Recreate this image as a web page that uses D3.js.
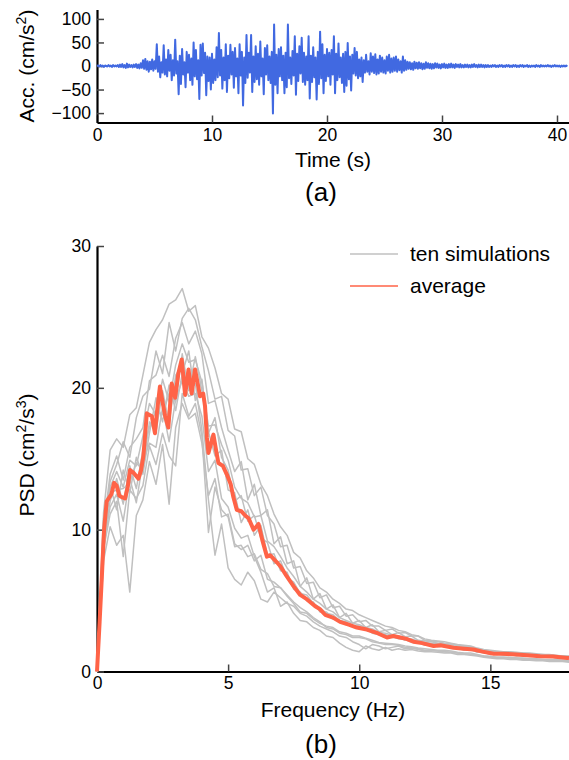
<!DOCTYPE html>
<html>
<head>
<meta charset="utf-8">
<script src="https://cdnjs.cloudflare.com/ajax/libs/d3/7.8.5/d3.min.js"></script>
<style>
body { margin: 0; background: #fff; }
svg text { font-family: "Liberation Sans", Arial, sans-serif; fill: #000; }
</style>
</head>
<body>
<div id="vis"></div>
<script>
// ---- data ----

// (a) acceleration record, one value every 0.1 s (cm/s^2)
const ACC_DT = 0.1;
const accValues = [
  0, 1, -1, 2, -1, 1, -2, 1, 0, -1,
  2, -1, 1, -2, 2, -1, 1, -1, 2, -2,
  3, -2, 4, -3, 2, -4, 5, -3, 3, -2,
  2, -3, 3, -2, 4, -4, 3, -5, 6, -4,
  12, -6, 15, -8, 10, -12, 9, -7, 14, -10,
  10, -6, 46, -12, 20, -24, 8, -14, 44, -18,
  14, -22, 34, -10, 24, -30, 12, -20, 56, -16,
  10, -60, 22, -38, 36, -18, 8, -45, 30, -14,
  24, -30, 16, -40, 50, -22, 34, -28, 12, -70,
  45, -20, 48, -15, 28, -62, 20, -32, 18, -50,
  26, -36, 14, -30, 40, -24, 70, -20, 34, -48,
  18, -30, 46, -55, 22, -26, 45, -18, 30, -46,
  38, -22, 16, -58, 46, -20, 30, -84, 18, -36,
  66, -25, 28, -14, 66, -55, 20, -34, 42, -28,
  26, -40, 52, -22, 16, -60, 38, -18, 44, -30,
  20, -36, 30, -101, 88, -40, 24, -58, 36, -22,
  40, -30, 22, -58, 28, -45, 88, -26, 18, -38,
  32, -20, 63, -61, 26, -32, 42, -16, 60, -34,
  28, -40, 20, -30, 63, -69, 22, -34, 40, -24,
  18, -71, 30, -38, 73, -26, 46, -58, 24, -32,
  36, -22, 28, -40, 34, -18, 63, -58, 26, -30,
  48, -24, 18, -36, 26, -55, 30, -42, 49, -28,
  20, -52, 24, -16, 38, -20, 30, -26, 14, -22,
  18, -34, 12, -14, 24, -12, 10, -18, 27, -12,
  20, -15, 25, -18, 14, -16, 22, -12, 18, -14,
  12, -16, 20, -10, 24, -14, 16, -12, 18, -10,
  20, -12, 14, -9, 10, -14, 20, -10, 12, -8,
  9, -6, 8, -7, 6, -8, 9, -5, 7, -6,
  8, -5, 6, -7, 5, -6, 8, -4, 6, -5,
  5, -6, 4, -5, 6, -3, 5, -4, 3, -5,
  4, -3, 5, -4, 3, -4, 4, -3, 5, -3,
  3, -4, 4, -2, 3, -3, 4, -3, 2, -3,
  3, -2, 3, -3, 2, -3, 3, -2, 4, -2,
  2, -3, 3, -2, 3, -2, 2, -3, 2, -2,
  2, -2, 1, -2, 2, -1, 2, -2, 1, -2,
  2, -1, 2, -2, 1, -2, 2, -1, 2, -2,
  1, -2, 2, -1, 2, -2, 1, -2, 2, -1,
  2, -2, 1, -1, 2, -2, 1, -2, 1, -1,
  1, -2, 2, -1, 1, -2, 2, -1, 1, -1,
  1, -1, 2, -1, 1, -2, 1, -1, 2, -1,
  1, -1, 1, -2, 1, -1, 1, -1, 1, -1
];
const accTicksX = [0, 10, 20, 30, 40];
const accTicksY = [-100, -50, 0, 50, 100];

// (b) PSD of the ten simulations, one value every 0.25 Hz (cm^2/s^3)
const SIM_DF = 0.25;
const sim1 = [0, 11.2, 15.6, 16.4, 15.8, 18.1, 18.6, 20.9, 23.2, 24.1,
  24.8, 25.9, 26.2, 27.0, 25.4, 25.8, 23.6, 22.8, 21.4, 19.6,
  19.2, 17.1, 16.9, 15.0, 14.6, 13.2, 12.4, 11.1, 10.2, 9.6,
  8.4, 8.0, 7.1, 6.6, 5.9, 5.6, 5.1, 4.8, 4.4, 4.3,
  4.0, 3.8, 3.6, 3.4, 3.2, 3.1, 2.9, 2.8, 2.6, 2.5,
  2.2, 2.15, 2.1, 2.0, 1.95, 1.85, 1.8, 1.75, 1.6, 1.5,
  1.45, 1.4, 1.4, 1.35, 1.3, 1.3, 1.25, 1.2, 1.2, 1.15,
  1.1, 1.1, 1.05];
const sim2 = [0, 7.8, 10.2, 8.9, 9.6, 5.6, 11.0, 12.1, 14.8, 13.2,
  16.0, 11.8, 17.2, 18.9, 17.8, 18.2, 16.1, 12.4, 13.6, 10.9,
  11.1, 9.0, 8.6, 8.9, 7.8, 8.2, 6.5, 6.3, 5.9, 5.4,
  4.9, 4.5, 4.2, 3.8, 3.5, 3.1, 3.0, 2.7, 2.6, 2.4,
  2.4, 2.3, 2.1, 2.0, 1.9, 1.9, 1.85, 1.7, 1.65, 1.6,
  1.5, 1.5, 1.45, 1.4, 1.35, 1.3, 1.25, 1.2, 1.15, 1.05,
  1.0, 0.95, 0.95, 0.95, 0.9, 0.85, 0.85, 0.8, 0.8, 0.8,
  0.75, 0.75, 0.7];
const sim3 = [0, 10.2, 13.9, 15.2, 13.5, 15.8, 16.4, 17.2, 20.5, 20.9,
  22.3, 20.8, 23.5, 24.6, 23.1, 24.0, 22.4, 18.9, 19.1, 17.2,
  15.6, 14.1, 14.8, 12.1, 13.2, 11.0, 11.4, 9.0, 9.5, 7.6,
  7.8, 6.0, 6.6, 5.1, 5.5, 4.4, 4.7, 3.8, 4.1, 3.4,
  3.6, 3.1, 3.3, 2.8, 2.9, 2.6, 2.75, 2.45, 2.5, 2.2,
  2.15, 2.1, 2.0, 1.95, 1.9, 1.8, 1.75, 1.7, 1.55, 1.45,
  1.4, 1.35, 1.35, 1.3, 1.3, 1.25, 1.2, 1.2, 1.15, 1.1,
  1.1, 1.05, 1.05];
const sim4 = [0, 9.1, 12.0, 13.6, 11.8, 14.5, 12.9, 15.6, 17.2, 18.4,
  18.1, 19.6, 19.0, 22.4, 19.8, 20.3, 17.0, 12.1, 8.2, 10.4,
  7.3, 6.5, 6.1, 7.0, 6.4, 5.1, 4.9, 5.6, 5.2, 4.8,
  4.6, 4.1, 3.9, 3.5, 3.2, 3.0, 2.8, 2.5, 2.4, 2.1,
  1.9, 1.6, 1.9, 1.8, 1.6, 1.7, 1.8, 1.6, 1.65, 1.55,
  1.45, 1.5, 1.45, 1.4, 1.35, 1.3, 1.25, 1.2, 1.15, 1.1,
  1.05, 1.0, 1.0, 0.95, 0.95, 0.9, 0.9, 0.85, 0.85, 0.8,
  0.8, 0.8, 0.75];
const sim5 = [0, 10.8, 13.1, 11.4, 14.2, 12.6, 15.1, 13.9, 16.8, 19.3,
  17.6, 20.2, 18.4, 21.0, 22.6, 19.1, 20.6, 16.8, 17.9, 15.1,
  14.2, 12.0, 12.4, 10.6, 11.0, 9.4, 9.1, 7.6, 7.8, 6.6,
  6.3, 5.5, 5.4, 4.8, 4.5, 4.1, 4.0, 3.6, 3.5, 3.2,
  3.2, 2.9, 2.9, 2.6, 2.6, 2.4, 2.45, 2.2, 2.2, 2.0,
  2.0, 1.85, 1.85, 1.75, 1.75, 1.6, 1.6, 1.5, 1.45, 1.3,
  1.3, 1.2, 1.25, 1.15, 1.2, 1.1, 1.15, 1.05, 1.1, 1.0,
  1.0, 0.95, 0.95];
const sim6 = [0, 8.6, 11.1, 12.0, 8.1, 12.8, 12.2, 13.1, 15.9, 14.6,
  16.8, 15.2, 14.5, 19.6, 18.0, 18.9, 16.6, 9.8, 13.0, 11.4,
  10.9, 8.8, 8.9, 8.1, 8.3, 7.2, 6.9, 6.0, 5.9, 5.3,
  4.8, 4.2, 4.1, 3.7, 3.4, 3.2, 3.1, 2.8, 2.7, 2.5,
  2.5, 2.35, 2.2, 2.05, 2.0, 1.95, 1.9, 1.8, 1.75, 1.65,
  1.6, 1.55, 1.5, 1.5, 1.45, 1.35, 1.3, 1.3, 1.2, 1.1,
  1.05, 1.0, 1.0, 1.0, 0.95, 0.95, 0.9, 0.9, 0.85, 0.85,
  0.85, 0.8, 0.8];
const sim7 = [0, 9.9, 13.4, 14.6, 16.2, 15.1, 17.9, 19.4, 19.9, 22.6,
  21.0, 24.6, 22.6, 24.9, 25.6, 24.8, 22.9, 21.2, 19.2, 19.4,
  17.0, 16.6, 14.2, 14.3, 12.4, 13.0, 11.0, 10.4, 8.8, 8.9,
  7.3, 7.4, 6.2, 6.3, 5.2, 5.4, 4.5, 4.6, 3.9, 4.0,
  3.5, 3.6, 3.2, 3.2, 2.9, 3.0, 2.7, 2.75, 2.5, 2.5,
  2.3, 2.2, 2.15, 2.1, 2.0, 1.9, 1.85, 1.8, 1.65, 1.55,
  1.5, 1.45, 1.4, 1.4, 1.35, 1.3, 1.3, 1.25, 1.2, 1.2,
  1.15, 1.1, 1.1];
const sim8 = [0, 9.4, 12.6, 12.8, 12.9, 13.3, 14.7, 14.2, 17.6, 16.9,
  19.8, 17.5, 20.9, 21.6, 19.9, 22.2, 19.8, 16.9, 15.2, 15.6,
  12.8, 12.6, 10.5, 11.4, 9.6, 10.3, 8.2, 8.3, 7.1, 7.0,
  5.8, 5.6, 5.0, 4.9, 4.2, 4.2, 3.7, 3.6, 3.3, 3.2,
  3.0, 3.0, 2.7, 2.6, 2.4, 2.45, 2.3, 2.25, 2.05, 2.05,
  1.85, 1.9, 1.75, 1.8, 1.65, 1.65, 1.5, 1.55, 1.35, 1.35,
  1.2, 1.25, 1.15, 1.2, 1.1, 1.15, 1.05, 1.1, 1.0, 1.05,
  0.95, 1.0, 0.95];
const sim9 = [0, 8.9, 11.6, 12.5, 10.6, 13.6, 11.9, 14.8, 16.1, 15.8,
  18.6, 16.2, 19.2, 20.5, 19.4, 19.6, 18.0, 14.1, 14.9, 12.2,
  11.6, 10.1, 9.4, 9.6, 8.1, 7.0, 5.6, 5.9, 4.6, 4.9,
  4.1, 3.6, 3.5, 3.1, 2.9, 2.5, 2.4, 2.0, 1.7, 1.5,
  1.4, 1.8, 1.6, 1.5, 1.7, 1.5, 1.6, 1.5, 1.55, 1.45,
  1.4, 1.4, 1.35, 1.3, 1.3, 1.2, 1.2, 1.15, 1.1, 1.0,
  0.95, 0.9, 0.9, 0.85, 0.85, 0.8, 0.8, 0.75, 0.75, 0.7,
  0.7, 0.7, 0.65];
const sim10 = [0, 10.0, 13.0, 14.1, 13.0, 14.9, 14.5, 16.6, 18.9, 18.1,
  20.6, 19.0, 21.6, 23.1, 21.8, 22.0, 20.4, 17.3, 17.4, 16.0,
  14.9, 13.0, 12.2, 11.9, 10.9, 11.0, 9.2, 8.8, 8.1, 7.3,
  6.7, 6.0, 5.6, 5.1, 4.8, 4.4, 4.2, 3.8, 3.6, 3.4,
  3.3, 3.1, 3.0, 2.75, 2.7, 2.55, 2.5, 2.35, 2.3, 2.15,
  2.05, 2.0, 1.95, 1.85, 1.8, 1.7, 1.7, 1.6, 1.5, 1.4,
  1.35, 1.3, 1.3, 1.25, 1.2, 1.2, 1.15, 1.1, 1.1, 1.05,
  1.05, 1.0, 1.0];
const simulations = [sim1, sim2, sim3, sim4, sim5, sim6, sim7, sim8, sim9, sim10];

// (b) average PSD (its own, finer frequency points)
const avgFreq = [0, 0.1, 0.18, 0.27, 0.37, 0.44, 0.55, 0.65, 0.75, 0.85,
  0.94, 1.07, 1.17, 1.26, 1.4, 1.58, 1.68, 1.77, 1.9, 2.09,
  2.21, 2.3, 2.4, 2.5, 2.6, 2.72, 2.85, 2.98, 3.1, 3.23,
  3.36, 3.49, 3.61, 3.74, 3.93, 4.05, 4.12, 4.19, 4.25, 4.44,
  4.55, 4.63, 4.8, 4.95, 5.1, 5.2, 5.33, 5.5, 5.65, 5.78,
  5.97, 6.07, 6.16, 6.3, 6.48, 6.6, 6.86, 7.0, 7.24, 7.5,
  7.75, 8.0, 8.32, 8.5, 8.7, 9.0, 9.27, 9.6, 9.91, 10.29,
  10.7, 11.06, 11.3, 11.56, 11.8, 12.07, 12.4, 12.84, 13.1, 13.6,
  14.0, 14.36, 14.7, 15.13, 15.5, 16.0, 16.4, 16.9, 17.4, 17.93, 18];
const avgPsd = [0, 3.5, 6.5, 10, 12.0, 12.2, 12.5, 13.3, 13.1, 12.4,
  12.3, 12.2, 13.0, 14.2, 14.0, 13.6, 14.2, 15.2, 18.2, 18.0,
  16.8, 18.5, 20.1, 19.0, 18.0, 17.2, 20.3, 19.3, 21.0, 22.0,
  19.5, 21.3, 19.6, 21.3, 19.4, 19.6, 18.7, 16.5, 15.4, 16.7,
  15.5, 14.7, 14.5, 13.9, 13.2, 12.3, 11.4, 11.3, 11.0, 10.8,
  10.0, 10.2, 10.4, 9.3, 8.1, 8.2, 7.7, 7.4, 6.7, 6.0,
  5.4, 5.1, 4.6, 4.4, 4.0, 3.8, 3.5, 3.3, 3.1, 2.96,
  2.7, 2.4, 2.5, 2.4, 2.3, 2.1, 2.0, 1.8, 1.85, 1.67,
  1.6, 1.55, 1.4, 1.25, 1.25, 1.2, 1.15, 1.08, 1.05, 0.96, 0.95];
const psdTicksX = [0, 5, 10, 15];
const psdTicksY = [0, 10, 20, 30];
const legendLabels = ["ten simulations", "average"];

// ---- drawing ----
const FRAME_WIDTH = 569;
const FRAME_HEIGHT = 760;
const BLUE = "#4169e1";
const GRAY = "#c0c0c0";
const ORANGE = "#ff6347";

const svg = d3.select("#vis")
  .append("svg")
  .attr("width", FRAME_WIDTH)
  .attr("height", FRAME_HEIGHT);

function styleAxis(g) {
  g.attr("font-family", null).attr("font-size", null);
  g.select(".domain").attr("stroke", "#000").attr("stroke-width", 2.2);
  g.selectAll(".tick line").attr("stroke", "#444").attr("stroke-width", 1.5);
  g.selectAll(".tick text").attr("font-size", 17.5).attr("fill", "#000");
}

// rotated y title with superscripts
function yTitle(x, y, parts) {
  const t = svg.append("text")
    .attr("transform", `translate(${x},${y}) rotate(-90)`)
    .attr("text-anchor", "middle")
    .attr("font-size", 21);
  parts.forEach(p => {
    if (p.sup) {
      t.append("tspan").attr("font-size", 14).attr("dy", -8).text(p.text);
    } else {
      t.append("tspan").attr("dy", p.after ? 8 : 0).text(p.text);
    }
  });
}

// panel (a)
const xTime = d3.scaleLinear().domain([0, 41]).range([97, 568.5]);
const yAcc = d3.scaleLinear().domain([-120, 120]).range([122.5, 9.5]);

svg.append("g")
  .attr("transform", `translate(0,${yAcc(-120)})`)
  .call(d3.axisBottom(xTime).tickValues(accTicksX).tickSizeInner(-7).tickSizeOuter(0).tickPadding(6))
  .call(styleAxis);

svg.append("g")
  .attr("transform", `translate(${xTime(0)},0)`)
  .call(d3.axisLeft(yAcc).tickValues(accTicksY).tickSizeInner(-7).tickSizeOuter(0).tickPadding(6))
  .call(styleAxis);

const accLine = d3.line()
  .x((d, i) => xTime(i * ACC_DT))
  .y(d => yAcc(d));

svg.append("path")
  .datum(accValues)
  .attr("fill", "none")
  .attr("stroke", BLUE)
  .attr("stroke-width", 2)
  .attr("stroke-linejoin", "round")
  .attr("d", accLine);

svg.append("text")
  .attr("x", 333).attr("y", 167)
  .attr("text-anchor", "middle").attr("font-size", 21)
  .text("Time (s)");

svg.append("text")
  .attr("x", 321).attr("y", 201)
  .attr("text-anchor", "middle").attr("font-size", 26)
  .text("(a)");

yTitle(34, 66, [{text: "Acc. (cm/s"}, {text: "2", sup: true}, {text: ")", after: true}]);

// panel (b)
const xFreq = d3.scaleLinear().domain([0, 18]).range([97, 569]);
const yPsd = d3.scaleLinear().domain([0, 30]).range([671.5, 246]);

svg.append("g")
  .attr("transform", `translate(0,${yPsd(0)})`)
  .call(d3.axisBottom(xFreq).tickValues(psdTicksX).tickSizeInner(-7).tickSizeOuter(0).tickPadding(5))
  .call(styleAxis);

svg.append("g")
  .attr("transform", `translate(${xFreq(0)},0)`)
  .call(d3.axisLeft(yPsd).tickValues(psdTicksY).tickSizeInner(-7).tickSizeOuter(0).tickPadding(6))
  .call(styleAxis);

const simLine = d3.line()
  .x((d, i) => xFreq(i * SIM_DF))
  .y(d => yPsd(d));

svg.append("g")
  .selectAll("path")
  .data(simulations)
  .enter()
  .append("path")
  .attr("fill", "none")
  .attr("stroke", GRAY)
  .attr("stroke-width", 1.5)
  .attr("stroke-linejoin", "round")
  .attr("d", simLine);

const avgLine = d3.line()
  .x(d => xFreq(d[0]))
  .y(d => yPsd(d[1]));

svg.append("path")
  .datum(d3.zip(avgFreq, avgPsd))
  .attr("fill", "none")
  .attr("stroke", ORANGE)
  .attr("stroke-width", 4)
  .attr("stroke-linejoin", "round")
  .attr("d", avgLine);

// legend
const legend = svg.append("g");
[GRAY, ORANGE].forEach((c, i) => {
  legend.append("line")
    .attr("x1", 350).attr("x2", 398)
    .attr("y1", 254 + i * 32).attr("y2", 254 + i * 32)
    .attr("stroke", c).attr("stroke-width", 1.5);
  legend.append("text")
    .attr("x", 410).attr("y", 254 + i * 32)
    .attr("dy", "0.35em").attr("font-size", 21)
    .text(legendLabels[i]);
});

svg.append("text")
  .attr("x", 333).attr("y", 717)
  .attr("text-anchor", "middle").attr("font-size", 21)
  .text("Frequency (Hz)");

svg.append("text")
  .attr("x", 321).attr("y", 753)
  .attr("text-anchor", "middle").attr("font-size", 26)
  .text("(b)");

yTitle(34, 455, [{text: "PSD (cm"}, {text: "2", sup: true}, {text: "/s", after: true}, {text: "3", sup: true}, {text: ")", after: true}]);
</script>
</body>
</html>
